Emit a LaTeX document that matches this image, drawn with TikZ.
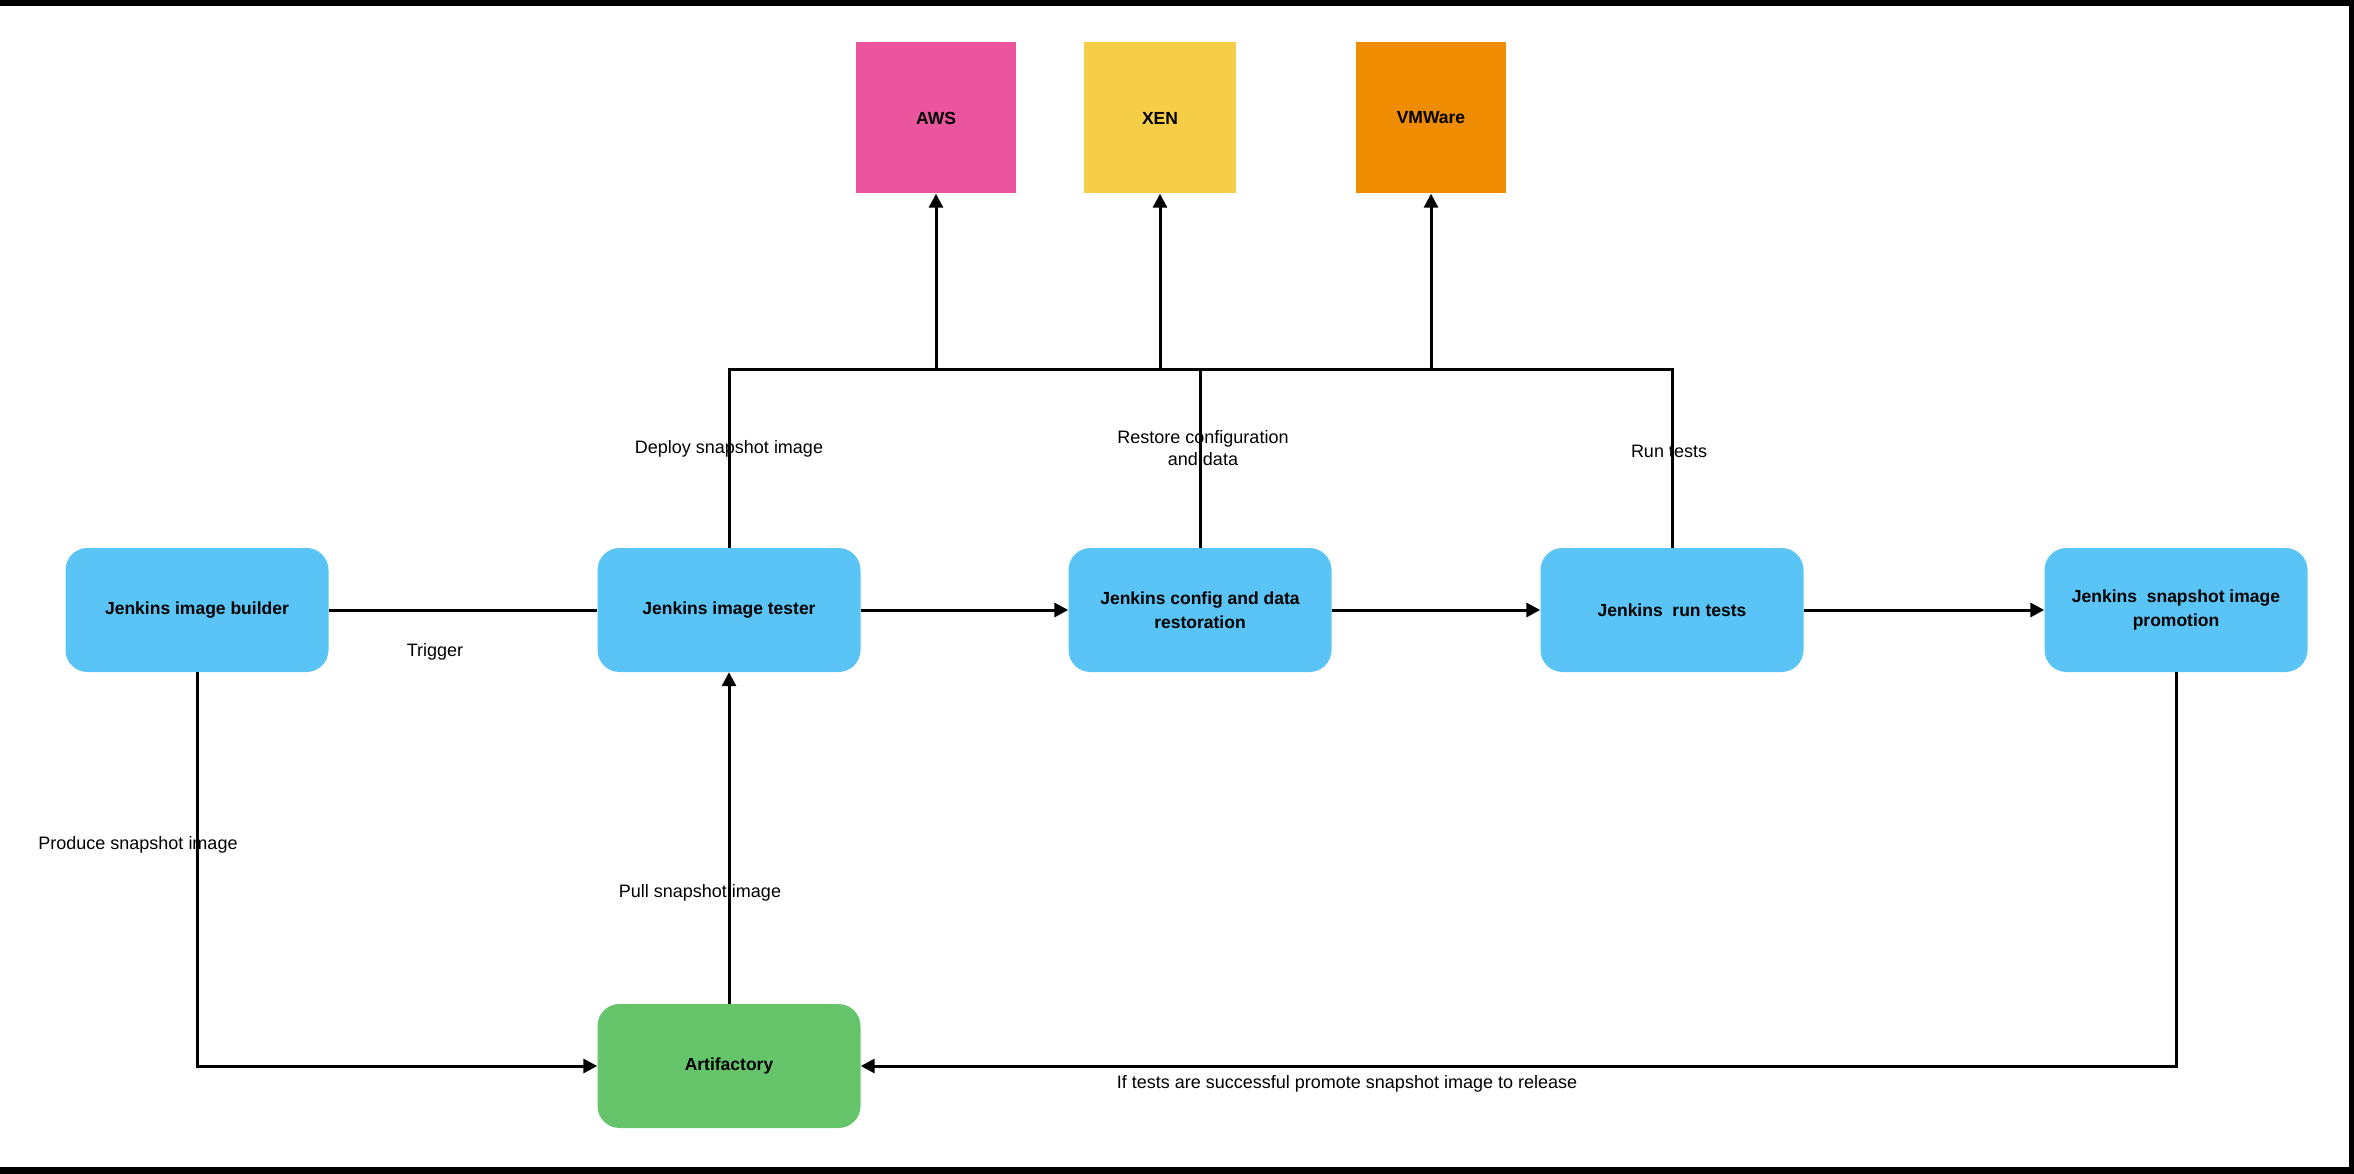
\documentclass[tikz,border=0pt]{standalone}
\usepackage{fontspec}
\setmainfont{Liberation Sans}
\usetikzlibrary{arrows.meta}
\definecolor{jblue}{HTML}{5AC4F7}
\definecolor{jgreen}{HTML}{66C56A}
\definecolor{jpink}{HTML}{EB559D}
\definecolor{jyellow}{HTML}{F5CD47}
\definecolor{jorange}{HTML}{EF8C00}
\tikzset{
  stage/.style={fill=jblue, rounded corners=22pt, minimum width=263pt, minimum height=124pt, inner sep=4pt, align=center, font=\fontsize{17.5}{24}\selectfont\bfseries},
  store/.style={stage, fill=jgreen},
  target/.style={minimum width=160pt, minimum height=151pt, inner sep=0pt, font=\fontsize{17.5}{24}\selectfont\bfseries},
  conn/.style={line width=3pt, black},
  arr/.style={conn, -{Triangle[length=14pt,width=14pt]}},
  lbl/.style={align=center, font=\fontsize{18}{22}\selectfont}
}
\begin{document}
\begin{tikzpicture}[x=1pt,y=-1pt]
\useasboundingbox (0,0) rectangle (2354,1174);
\fill[white] (0,0) rectangle (2354,1174);
\fill[black] (0,0) rectangle (2354,6);
\fill[black] (0,1167) rectangle (2354,1174);
\fill[black] (2349,0) rectangle (2354,1174);

\node[stage] (b) at (197,610) {Jenkins image builder};
\node[stage] (t) at (729,610) {Jenkins image tester};
\node[stage] (c) at (1200,610) {Jenkins config and data\\restoration};
\node[stage] (r) at (1672,610) {Jenkins\ \ run tests};
\node[stage] (p) at (2176,610) {Jenkins\ \ snapshot image\\promotion};
\node[store] (a) at (729,1066) {Artifactory};

\node[target, fill=jpink] (aws) at (936,118) {AWS};
\node[target, fill=jyellow, minimum width=152pt] (xen) at (1160,118) {XEN};
\node[target, fill=jorange, minimum width=150pt] (vm) at (1431,118) {VMWare};

\coordinate (bus) at (0,369);

\draw[conn] (b.east) -- (t.west);
\draw[arr] (t.east) -- (c.west);
\draw[arr] (c.east) -- (r.west);
\draw[arr] (r.east) -- (p.west);

\draw[conn] (t.north) -- (t.north |- bus) -- (r.north |- bus) -- (r.north);
\draw[conn] (c.north) -- (c.north |- bus);
\draw[arr] (aws.south |- bus) -- (aws.south);
\draw[arr] (xen.south |- bus) -- (xen.south);
\draw[arr] (vm.south |- bus) -- (vm.south);

\draw[arr] (b.south) |- (a.west);
\draw[arr] (p.south) |- (a.east);
\draw[arr] (a.north) -- (t.south);

\node[lbl] (l1) at (729,449) {Deploy snapshot image};
\node[lbl] (l2) at (1203,448) {Restore configuration\\and data};
\node[lbl] (l3) at (1669,451) {Run tests};
\node[lbl] (l4) at (435,652) {Trigger};
\node[lbl] (l5) at (138,845) {Produce snapshot image};
\node[lbl] (l6) at (700,893) {Pull snapshot image};
\node[lbl] (l7) at (1347,1084) {If tests are successful promote snapshot image to release};
\end{tikzpicture}
\end{document}
